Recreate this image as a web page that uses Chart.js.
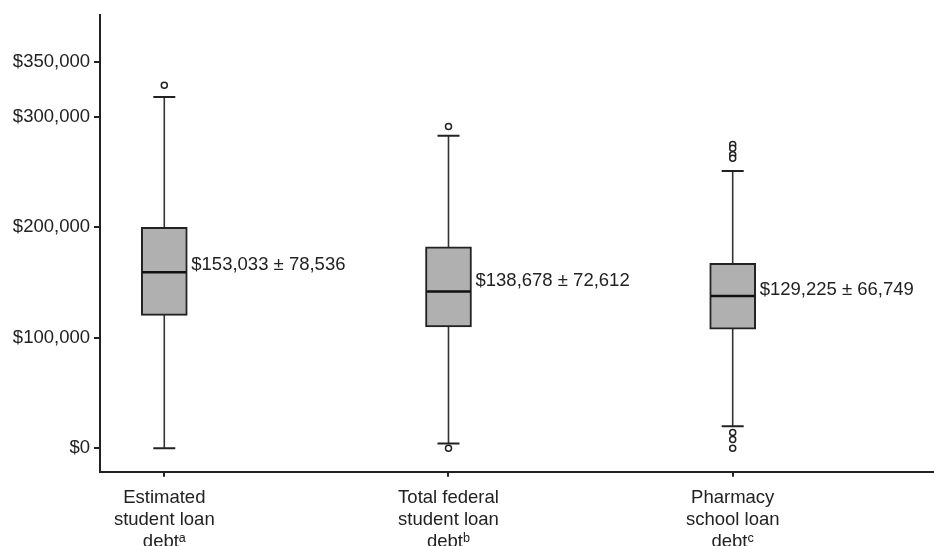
<!DOCTYPE html>
<html>
<head>
<meta charset="utf-8">
<script src="https://cdn.jsdelivr.net/npm/chart.js@4.4.1/dist/chart.umd.min.js"></script>
<style>
  html, body { margin: 0; padding: 0; background: #ffffff; overflow: hidden; }
  #wrap { position: relative; width: 934px; height: 546px; }
</style>
</head>
<body>
<div id="wrap"><canvas id="c"></canvas></div>
<script>
// ---- data ----
const categories = [
  ['Estimated', 'student loan', 'debt\u1D43'],
  ['Total federal', 'student loan', 'debt\u1D47'],
  ['Pharmacy', 'school loan', 'debt\u1D9C']
];
const whiskerLow  = [0, 4200, 19800];
const q1          = [120300, 109800, 107700];
const median      = [159300, 141900, 137900];
const q3          = [200000, 182400, 167400];
const whiskerHigh = [318200, 283100, 251000];
const outliers = [
  [328700],
  [291500, 0],
  [275000, 271700, 265700, 262700, 14100, 7800, 0]
];
const meanSdLabels = ['$153,033 \u00B1 78,536', '$138,678 \u00B1 72,612', '$129,225 \u00B1 66,749'];
const yTicks = [0, 100000, 200000, 300000, 350000];

// ---- styles ----
const INK = '#222222';
const BOX_FILL = '#b0b0b0';
const BOX_W = 46;
const FONT = "'Liberation Sans', Arial, Helvetica, sans-serif";
const FS = 18.5;

const pos = categories.map((_, i) => i + 1);

const datasets = [];
// whiskers (behind boxes)
pos.forEach((p, i) => {
  datasets.push({
    type: 'line',
    data: [{x: p, y: whiskerLow[i]}, {x: p, y: whiskerHigh[i]}],
    borderColor: '#333333',
    borderWidth: 1.6,
    pointRadius: 0,
    fill: false,
    order: 10
  });
});
// boxes
datasets.push({
  type: 'bar',
  data: pos.map((p, i) => ({x: p, y: [q1[i], q3[i]]})),
  backgroundColor: BOX_FILL,
  borderColor: INK,
  borderWidth: 2,
  borderSkipped: false,
  barThickness: BOX_W,
  order: 5
});
// medians
datasets.push({
  type: 'scatter',
  data: pos.map((p, i) => ({x: p, y: median[i]})),
  pointStyle: 'line',
  pointRadius: 22,
  pointBorderWidth: 2.6,
  borderColor: '#111111',
  order: 2
});
// caps
datasets.push({
  type: 'scatter',
  data: pos.flatMap((p, i) => [{x: p, y: whiskerLow[i]}, {x: p, y: whiskerHigh[i]}]),
  pointStyle: 'line',
  pointRadius: 11,
  pointBorderWidth: 2,
  borderColor: INK,
  order: 2
});
// outliers
datasets.push({
  type: 'scatter',
  data: pos.flatMap((p, i) => outliers[i].map(v => ({x: p, y: v}))),
  pointStyle: 'circle',
  pointRadius: 3,
  pointBorderWidth: 1.5,
  backgroundColor: '#ffffff',
  borderColor: INK,
  order: 1
});

const labelPlugin = {
  id: 'meanSd',
  afterDatasetsDraw(chart) {
    const xs = chart.scales.x, ys = chart.scales.y, ctx = chart.ctx;
    ctx.save();
    ctx.font = FS + 'px ' + FONT;
    ctx.fillStyle = INK;
    ctx.textAlign = 'left';
    ctx.textBaseline = 'middle';
    pos.forEach((p, i) => {
      const x = xs.getPixelForValue(p) + BOX_W / 2 + 4;
      const y = (ys.getPixelForValue(q1[i]) + ys.getPixelForValue(q3[i])) / 2 - 6;
      ctx.fillText(meanSdLabels[i], x, y);
    });
    ctx.restore();
  }
};

new Chart(document.getElementById('c'), {
  type: 'scatter',
  data: { datasets },
  plugins: [labelPlugin],
  options: {
    responsive: true,
    maintainAspectRatio: false,
    animation: false,
    layout: { autoPadding: false, padding: { top: 12, right: 0, bottom: 0, left: 0 } },
    plugins: { legend: { display: false }, tooltip: { enabled: false } },
    scales: {
      x: {
        type: 'linear',
        offset: false,
        min: 0.7738,
        max: 3.7083,
        afterBuildTicks: (s) => { s.ticks = pos.map(v => ({value: v})); },
        afterFit: (s) => { s.height = 74.3; },
        ticks: {
          callback: (v) => categories[Math.round(v) - 1],
          color: INK,
          font: { family: FONT, size: FS, lineHeight: 1.2 },
          padding: 10,
          maxRotation: 0,
          autoSkip: false
        },
        grid: { display: true, drawOnChartArea: false, drawTicks: true, tickLength: 5, color: INK, lineWidth: 2, offset: false },
        border: { display: true, color: INK, width: 2 }
      },
      y: {
        type: 'linear',
        min: -21300,
        max: 392300,
        afterBuildTicks: (s) => { s.ticks = yTicks.map(v => ({value: v})); },
        afterFit: (s) => { s.width = 100; },
        ticks: {
          callback: (v) => '$' + Number(v).toLocaleString('en-US'),
          color: INK,
          font: { family: FONT, size: FS },
          padding: 4,
          autoSkip: false
        },
        grid: { display: true, drawOnChartArea: false, drawTicks: true, tickLength: 6, color: INK, lineWidth: 2 },
        border: { display: true, color: INK, width: 2 }
      }
    }
  }
});
</script>
</body>
</html>
